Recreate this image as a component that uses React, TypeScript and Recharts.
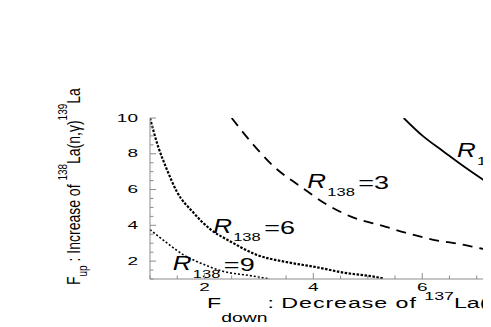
import { LineChart, Line, XAxis, YAxis, ReferenceDot } from 'recharts';

// curves of constant R138 (x = F_down, y = F_up)
const r1X = [5.66, 6.02, 6.39, 6.76, 7.25, 7.6];
const r1Y = [10, 8.97, 8.13, 7.3, 6.3, 5.7];
const r3X = [2.5, 2.9, 3.27, 3.76, 4.25, 4.68, 5.32, 5.69, 6.28, 6.64, 7.19, 7.6];
const r3Y = [10, 8.5, 7.3, 6.18, 5.16, 4.5, 3.93, 3.59, 3.15, 2.98, 2.64, 2.45];
const r6X = [1.0, 1.15, 1.3, 1.49, 1.8, 2.1, 2.47, 2.96, 3.5, 4.06, 4.55, 5.17, 5.3];
const r6Y = [10, 8.4, 7.2, 5.9, 4.7, 3.8, 3.11, 2.35, 1.95, 1.66, 1.36, 1.1, 1.02];
const r9X = [1.0, 1.31, 1.61, 1.92, 2.34, 2.84, 3.2];
const r9Y = [3.76, 3.02, 2.36, 1.9, 1.43, 1.19, 1.0];

const xTicks = [1, 1.5, 2, 2.5, 3, 3.5, 4, 4.5, 5, 5.5, 6, 6.5, 7, 7.5, 8, 8.5, 9, 9.5, 10];
const yTicks = [1, 1.5, 2, 2.5, 3, 3.5, 4, 4.5, 5, 5.5, 6, 6.5, 7, 7.5, 8, 8.5, 9, 9.5, 10];
const xLabeled = [2, 4, 6, 8, 10];
const yLabeled = [2, 4, 6, 8, 10];

const curveLabels = [
    { n: '1', x: 6.64, y: 7.84 },
    { n: '3', x: 3.89, y: 6.11 },
    { n: '6', x: 2.16, y: 3.59 },
    { n: '9', x: 1.42, y: 1.53 },
];

const toRows = (xs: number[], ys: number[]) => xs.map((x, i) => ({ x, y: ys[i] }));

const font = "'Liberation Sans', Arial, Helvetica, sans-serif";
const axisGray = '#8c8c8c';

const BottomTick = (props: any) => {
    const { x, y, payload } = props;
    const major = xLabeled.includes(payload.value);
    return (
        <g>
            <line x1={x} x2={x} y1={y} y2={y - (major ? 6 : 3.5)} stroke={axisGray} />
            {major && (
                <text transform={`translate(${x},${y + 12}) scale(1.9,1)`} textAnchor="middle"
                    fontFamily={font} fontSize={10} fill="#000">{payload.value}</text>
            )}
        </g>
    );
};

const TopTick = (props: any) => {
    const { x, y, payload } = props;
    const major = xLabeled.includes(payload.value);
    return <line x1={x} x2={x} y1={y} y2={y + (major ? 6 : 3.5)} stroke={axisGray} />;
};

const LeftTick = (props: any) => {
    const { x, y, payload } = props;
    const major = yLabeled.includes(payload.value);
    return (
        <g>
            <line x1={x} x2={x + (major ? 6 : 3.5)} y1={y} y2={y} stroke={axisGray} />
            {major && (
                <text transform={`translate(${x - 12},${y + 3.5}) scale(1.9,1)`} textAnchor="end"
                    fontFamily={font} fontSize={10} fill="#000">{payload.value}</text>
            )}
        </g>
    );
};

const XTitle = (props: any) => {
    const { viewBox } = props;
    const x0 = viewBox.x + 57;
    const y0 = viewBox.y + 29;
    return (
        <text transform={`translate(${x0},${y0}) scale(1.55,1)`} fontFamily={font} fontSize={15} fill="#000">
            <tspan>F</tspan>
            <tspan fontSize={12.5} dy={14}>down</tspan>
            <tspan dy={-14}>:</tspan>
            <tspan letterSpacing={0.6}> Decrease of </tspan>
            <tspan fontSize={11.5} dy={-8}>137</tspan>
            <tspan dy={8}>La(n,γ)</tspan>
            <tspan fontSize={11.5} dy={-8}>138</tspan>
            <tspan dy={8}>La</tspan>
        </text>
    );
};

const YTitle = (props: any) => {
    const { viewBox } = props;
    const x0 = viewBox.x + 72;
    const y0 = viewBox.y + viewBox.height + 6;
    return (
        <text transform={`translate(${x0},${y0}) rotate(-90) scale(1,1.3)`} fontFamily={font} fontSize={14} fill="#000">
            <tspan>F</tspan>
            <tspan fontSize={10} dy={5}>up</tspan>
            <tspan dy={-5}> : Increase of </tspan>
            <tspan fontSize={10} dy={-10}>138</tspan>
            <tspan dy={10}>La(n,γ)</tspan>
            <tspan fontSize={10} dy={-10}>139</tspan>
            <tspan dy={10}>La</tspan>
        </text>
    );
};

const RLabel = (props: any) => {
    const { viewBox, n } = props;
    const x = viewBox.x;
    const y = viewBox.y;
    return (
        <g fontFamily={font} fill="#000">
            <text transform={`translate(${x},${y}) scale(1.3,1)`} fontSize={20} fontStyle="italic">R</text>
            <text transform={`translate(${x + 20},${y + 8}) scale(1.65,1)`} fontSize={10}>138</text>
            <text transform={`translate(${x + 51},${y + 1}) scale(1.5,1)`} fontSize={18}>={n}</text>
        </g>
    );
};

const App = () => {
    return (
        <div style={{ width: 483, height: 319, overflow: 'hidden' }}>
            <LineChart width={660} height={319} margin={{ top: 110, right: 28, bottom: 0, left: 0 }}>
                <XAxis dataKey="x" type="number" domain={[1, 10]} ticks={xTicks} interval={0}
                    allowDataOverflow height={48} tickSize={0} tickMargin={0}
                    axisLine={{ stroke: axisGray }} tickLine={false} tick={<BottomTick />}
                    label={(p: any) => <XTitle {...p} />} />
                <XAxis xAxisId="top" orientation="top" dataKey="x" type="number" domain={[1, 10]}
                    ticks={xTicks} interval={0} allowDataOverflow height={0} tickSize={0} tickMargin={0}
                    axisLine={{ stroke: axisGray }} tickLine={false} tick={<TopTick />} />
                <YAxis type="number" domain={[1, 10]} ticks={yTicks} interval={0} allowDataOverflow
                    width={142} tickSize={0} tickMargin={0} axisLine={{ stroke: axisGray }}
                    tickLine={false} tick={<LeftTick />} label={(p: any) => <YTitle {...p} />} />
                <Line data={toRows(r1X, r1Y)} dataKey="y" type="monotone" stroke="#000" strokeWidth={1.8}
                    dot={false} isAnimationActive={false} />
                <Line data={toRows(r3X, r3Y)} dataKey="y" type="monotone" stroke="#000" strokeWidth={1.8}
                    strokeDasharray="10 7" dot={false} isAnimationActive={false} />
                <Line data={toRows(r6X, r6Y)} dataKey="y" type="monotone" stroke="#000" strokeWidth={2.2}
                    strokeDasharray="2.5 1.5" dot={false} isAnimationActive={false} />
                <Line data={toRows(r9X, r9Y)} dataKey="y" type="monotone" stroke="#000" strokeWidth={1.6}
                    strokeDasharray="2 2" dot={false} isAnimationActive={false} />
                {curveLabels.map((c) => (
                    <ReferenceDot key={c.n} x={c.x} y={c.y} r={0} stroke="none" fill="none"
                        label={(p: any) => <RLabel {...p} n={c.n} />} />
                ))}
            </LineChart>
        </div>
    );
};

export default App;
